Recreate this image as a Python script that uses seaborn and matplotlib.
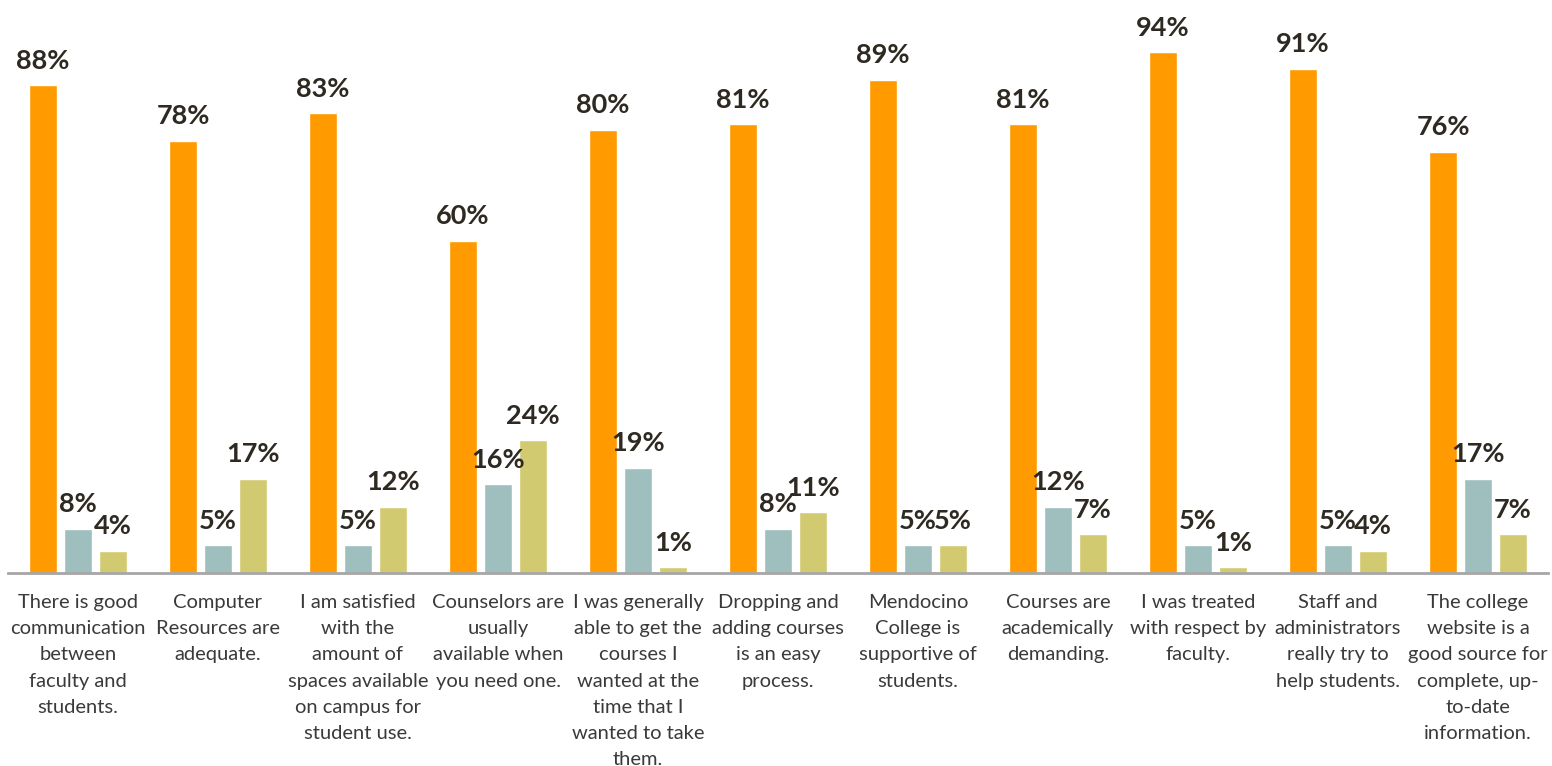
import pandas as pd
import matplotlib.pyplot as plt
import seaborn as sns

# Chart data
categories = [
    "There is good\ncommunication\nbetween\nfaculty and\nstudents.",
    "Computer\nResources are\nadequate.",
    "I am satisfied\nwith the\namount of\nspaces available\non campus for\nstudent use.",
    "Counselors are\nusually\navailable when\nyou need one.",
    "I was generally\nable to get the\ncourses I\nwanted at the\ntime that I\nwanted to take\nthem.",
    "Dropping and\nadding courses\nis an easy\nprocess.",
    "Mendocino\nCollege is\nsupportive of\nstudents.",
    "Courses are\nacademically\ndemanding.",
    "I was treated\nwith respect by\nfaculty.",
    "Staff and\nadministrators\nreally try to\nhelp students.",
    "The college\nwebsite is a\ngood source for\ncomplete, up-\nto-date\ninformation.",
]
series_names = ["Agree", "Disagree", "Not applicable"]
agree = [88, 78, 83, 60, 80, 81, 89, 81, 94, 91, 76]
disagree = [8, 5, 5, 16, 19, 8, 5, 12, 5, 5, 17]
not_applicable = [4, 17, 12, 24, 1, 11, 5, 7, 1, 4, 7]

colors = ["#FF9A00", "#9EBFBE", "#D2CA70"]

# Long format table for seaborn
rows = []
for name, vals in zip(series_names, [agree, disagree, not_applicable]):
    for cat, v in zip(categories, vals):
        rows.append({"Category": cat, "Response": name, "Percent": v})
df = pd.DataFrame(rows)

sns.set_style("white")
plt.rcParams['font.family'] = ['Lato', 'DejaVu Sans']

fig = plt.figure(figsize=(15.52, 7.66), dpi=100)
ax = fig.add_axes([8 / 1552, 193 / 766, 1540 / 1552, 573 / 766])

sns.barplot(data=df, x="Category", y="Percent", hue="Response",
            palette=colors, width=0.75, gap=0.2, saturation=1,
            legend=False, ax=ax)

# Value labels
for cont in ax.containers:
    ax.bar_label(cont, fmt="%d%%", padding=9, fontsize=19.5,
                 fontweight="bold", color="#2E2A22")

ax.set_ylim(0, 103.4)
ax.set_xlim(-0.5, 10.5)
ax.set_xlabel("")
ax.set_ylabel("")
ax.set_yticks([])
ax.tick_params(axis="x", length=0, pad=15, labelsize=14.5, labelcolor="#3A3A3A")
for lbl in ax.get_xticklabels():
    lbl.set_linespacing(1.66)

for side in ["top", "right", "left"]:
    ax.spines[side].set_visible(False)
ax.spines["bottom"].set_color("#A6A6A6")
ax.spines["bottom"].set_linewidth(2)

fig.savefig("out.png", dpi=100)
